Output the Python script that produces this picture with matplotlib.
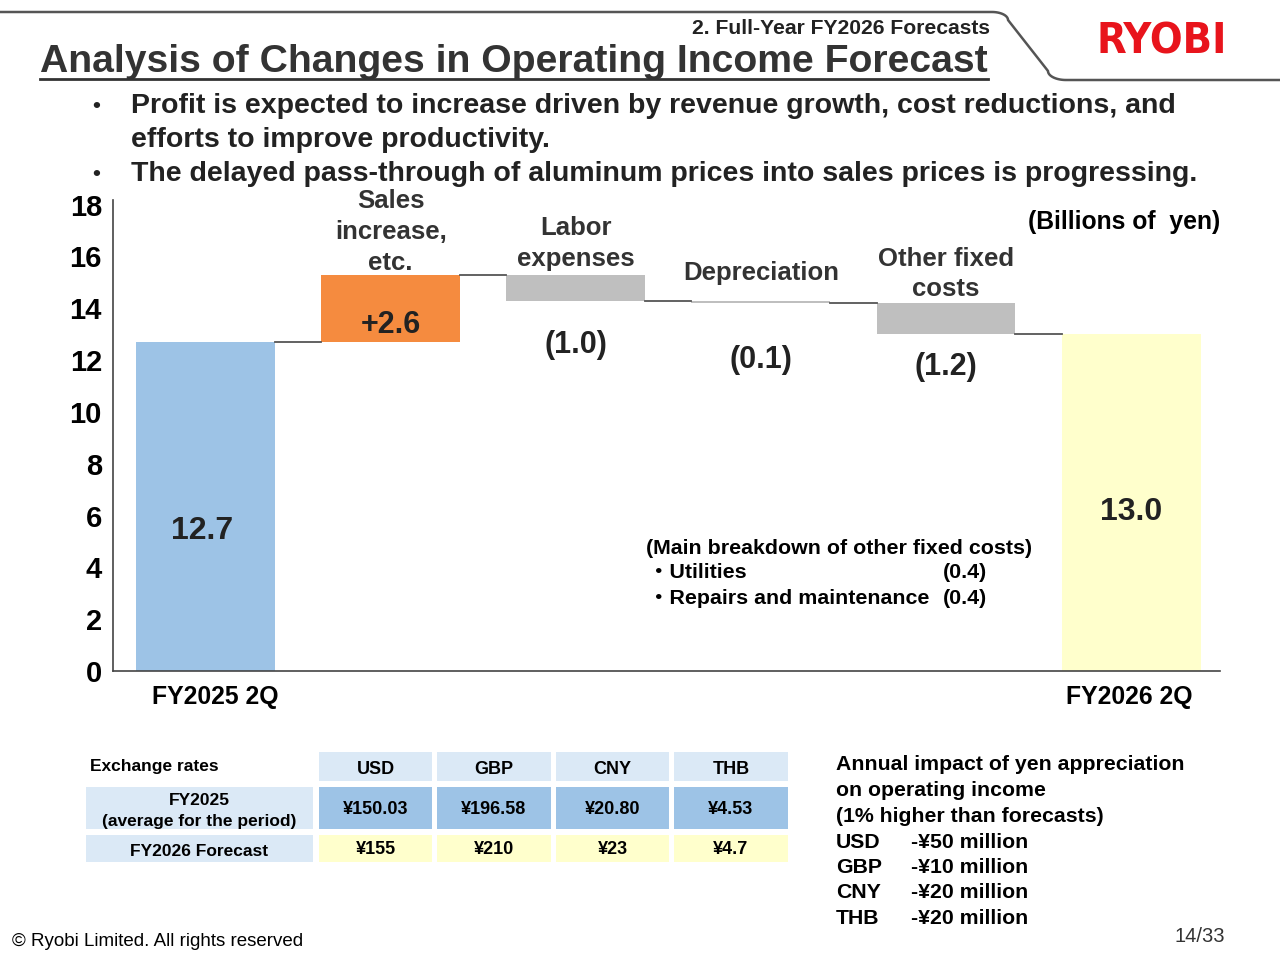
import matplotlib.pyplot as plt
from matplotlib.patches import Rectangle
import numpy as np

plt.rcParams['font.family'] = ['Liberation Sans', 'DejaVu Sans']
plt.rcParams['font.weight'] = 'bold'

# waterfall data (billions of yen)
steps = ["FY2025 2Q", "Sales\nincrease,\netc.", "Labor\nexpenses", "Depreciation", "Other fixed\ncosts", "FY2026 2Q"]
start_value = 12.7
changes = [2.6, -1.0, -0.1, -1.2]
end_value = 13.0
change_labels = ["+2.6", "(1.0)", "(0.1)", "(1.2)"]
bar_colors = ["#9dc3e6", "#f58b3f", "#bfbfbf", "#bfbfbf", "#bfbfbf", "#ffffcc"]

# exchange rate table
currencies = ["USD", "GBP", "CNY", "THB"]
rates_fy2025 = ["¥150.03", "¥196.58", "¥20.80", "¥4.53"]
rates_fy2026 = ["¥155", "¥210", "¥23", "¥4.7"]

# yen appreciation impact
impact_ccy = ["USD", "GBP", "CNY", "THB"]
impact_text = ["-¥50 million", "-¥10 million", "-¥20 million", "-¥20 million"]

TXT = "#222222"

fig = plt.figure(figsize=(12.8, 9.6), dpi=100)

# full-figure overlay in pixel coords for slide decoration
deco = fig.add_axes([0, 0, 1, 1])
deco.set_xlim(0, 1280)
deco.set_ylim(960, 0)
deco.axis("off")

# header frame line
t = np.linspace(0, 1, 20)
hx = [0, 992] + list(992 + 16 * np.sin(t * np.pi / 2)) + [1048] + list(1048 + 18 * (1 - np.cos(t * np.pi / 2))) + [1280]
hy = [12, 12] + list(12 + 8 * (1 - np.cos(t * np.pi / 2))) + [71] + list(71 + 9 * np.sin(t * np.pi / 2)) + [80]
deco.plot(hx, hy, color="#555555", lw=1.8, solid_capstyle="round")

fig.text(990 / 1280, 1 - 28 / 960, "2. Full-Year FY2026 Forecasts", ha="right", va="center",
         fontsize=15.2, color=TXT)
fig.text(40 / 1280, 1 - 62 / 960, "Analysis of Changes in Operating Income Forecast",
         ha="left", va="center", fontsize=28.2, color="#333333")
deco.plot([40, 988], [79, 79], color="#333333", lw=2)
fig.text(1162 / 1280, 1 - 42 / 960, "RYOBI", ha="center", va="center", fontsize=31,
         color="#e8141c", family="DejaVu Sans", fontstretch="condensed")

bullets = [(106, "Profit is expected to increase driven by revenue growth, cost reductions, and"),
           (140, "efforts to improve productivity."),
           (174, "The delayed pass-through of aluminum prices into sales prices is progressing.")]
for y, s in bullets:
    fig.text(131 / 1280, 1 - y / 960, s, ha="left", va="center", fontsize=20.5, color=TXT)
for y in (106, 174):
    fig.text(96 / 1280, 1 - y / 960, "•", ha="center", va="center", fontsize=16, color=TXT)

# chart axes
ax = fig.add_axes([113 / 1280, 1 - 671 / 960, (1220 - 113) / 1280, (671 - 200) / 960])
x = np.arange(len(steps))
bottoms = [0]
heights = [start_value]
level = start_value
levels = [start_value]
for c in changes:
    if c >= 0:
        bottoms.append(level)
        heights.append(c)
    else:
        bottoms.append(level + c)
        heights.append(-c)
    level += c
    levels.append(level)
bottoms.append(0)
heights.append(end_value)
levels.append(end_value)

w = 0.75
ax.bar(x, heights, bottom=bottoms, width=w, color=bar_colors, edgecolor="none")
for i in range(len(steps) - 1):
    ax.plot([x[i] + w / 2, x[i + 1] - w / 2], [levels[i], levels[i]], color="#555555", lw=1.3)

ax.set_xlim(-0.5, 5.48)
ax.set_ylim(0, 18.18)
ax.set_yticks(range(0, 19, 2))
ax.set_xticks([x[0] + 0.05, x[5] - 0.01])
ax.set_xticklabels([steps[0], steps[5]])
ax.tick_params(axis="y", length=0, pad=8, labelsize=21, labelcolor="black")
ax.tick_params(axis="x", length=0, pad=10, labelsize=17.8, labelcolor="black")
for s in ("top", "right"):
    ax.spines[s].set_visible(False)
ax.spines["left"].set_color("#444444")
ax.spines["bottom"].set_color("#444444")
ax.spines["left"].set_linewidth(1.2)
ax.spines["bottom"].set_linewidth(1.2)

ax.text(x[0] - 0.02, 5.4, f"{start_value:.1f}", ha="center", va="center", fontsize=23, color=TXT)
ax.text(x[5], 6.15, f"{end_value:.1f}", ha="center", va="center", fontsize=23, color=TXT)
label_y = [13.35, 12.6, 12.0, 11.75]
for i, (lab, ly) in enumerate(zip(change_labels, label_y)):
    ax.text(x[i + 1], ly, lab, ha="center", va="center", fontsize=22, color=TXT)

cat_pos = [(1, 16.95), (2, 16.5), (3, 15.35), (4, 15.32)]
for (i, yy) in cat_pos:
    ax.text(x[i], yy, steps[i], ha="center", va="center", fontsize=18.5, color="#333333",
            linespacing=1.35)

ax.text(1.0, 17.35, "(Billions of  yen)", transform=ax.get_yaxis_transform(), ha="right",
        va="center", fontsize=17.8, color="black")

fs_b = 15.4
fig.text(646 / 1280, 1 - 548 / 960, "(Main breakdown of other fixed costs)", ha="left",
         va="center", fontsize=fs_b, color="black")
fig.text(648 / 1280, 1 - 572 / 960, "・Utilities", ha="left", va="center", fontsize=fs_b,
         color="black", family=["Liberation Sans", "Noto Sans CJK JP"])
fig.text(648 / 1280, 1 - 598 / 960, "・Repairs and maintenance", ha="left", va="center",
         fontsize=fs_b, color="black", family=["Liberation Sans", "Noto Sans CJK JP"])
fig.text(987 / 1280, 1 - 572 / 960, "(0.4)", ha="right", va="center", fontsize=fs_b, color="black")
fig.text(987 / 1280, 1 - 598 / 960, "(0.4)", ha="right", va="center", fontsize=fs_b, color="black")

# exchange rate table
col_x = [(319, 432), (437, 551), (556, 669), (674, 788)]
row_y = [(752, 781), (787, 829), (835, 862)]
lab_x = (86, 313)
hdr_c, mid_c, yel_c = "#dbe9f6", "#9dc3e6", "#ffffcc"

deco.text(90, 766, "Exchange rates", ha="left", va="center", fontsize=12.5, color="black")
for (x0, x1), cur in zip(col_x, currencies):
    y0, y1 = row_y[0]
    deco.add_patch(Rectangle((x0, y0), x1 - x0, y1 - y0, color=hdr_c, lw=0))
    deco.text((x0 + x1) / 2, (y0 + y1) / 2 + 3, cur, ha="center", va="center", fontsize=13, color="black")
for ri, (vals, cell_c, lab) in enumerate([(rates_fy2025, mid_c, "FY2025\n(average for the period)"),
                                          (rates_fy2026, yel_c, "FY2026 Forecast")]):
    y0, y1 = row_y[ri + 1]
    deco.add_patch(Rectangle((lab_x[0], y0), lab_x[1] - lab_x[0], y1 - y0, color=hdr_c, lw=0))
    deco.text((lab_x[0] + lab_x[1]) / 2, (y0 + y1) / 2 + 3, lab, ha="center", va="center",
              fontsize=12.5, color="black", linespacing=1.45)
    for (x0, x1), v in zip(col_x, vals):
        deco.add_patch(Rectangle((x0, y0), x1 - x0, y1 - y0, color=cell_c, lw=0))
        deco.text((x0 + x1) / 2, (y0 + y1) / 2 + 1.5, v, ha="center", va="center", fontsize=13, color="black")

# yen appreciation sensitivity text
head = ["Annual impact of yen appreciation", "on operating income", "(1% higher than forecasts)"]
ys = [765, 790, 816]
fs_r = 15.3
for yy, s in zip(ys, head):
    deco.text(836, yy, s, ha="left", va="center", fontsize=fs_r, color="black")
for k, (c, s) in enumerate(zip(impact_ccy, impact_text)):
    yy = 842 + k * 25.5
    deco.text(836, yy, c, ha="left", va="center", fontsize=fs_r, color="black")
    deco.text(911, yy, s, ha="left", va="center", fontsize=fs_r, color="black")

deco.text(12, 941, "© Ryobi Limited. All rights reserved", ha="left", va="center",
          fontsize=13.5, color="black", fontweight="medium")
deco.text(1225, 936, "14/33", ha="right", va="center", fontsize=14.5, color="#333333",
          fontweight="normal")

fig.savefig("out.png", dpi=100)
